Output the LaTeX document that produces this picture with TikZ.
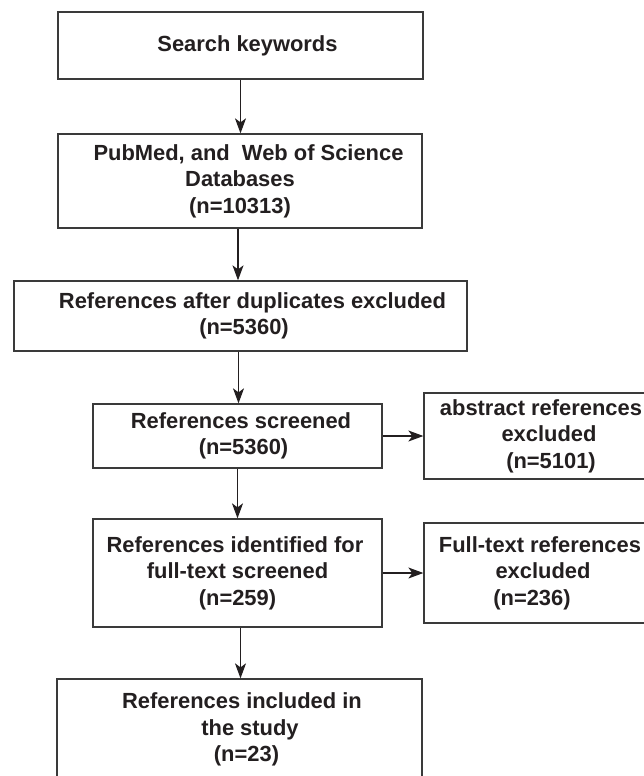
\documentclass[tikz,border=0pt]{standalone}
\usepackage{fontspec}
\setmainfont{Liberation Sans}
\usetikzlibrary{arrows.meta}
\definecolor{txt}{HTML}{231F20}
\definecolor{edge}{HTML}{3A3A3A}
\begin{document}
\begin{tikzpicture}[x=1pt,y=-1pt,
  box/.style={draw=edge, line width=1.3pt, rectangle, inner sep=0pt, align=center,
    text=txt, font=\fontsize{21.9}{26.5}\selectfont\bfseries},
  arr/.style={draw=txt, line width=1.2pt, -{Stealth[length=15pt,width=11pt,inset=4pt]}}]
\clip (0,0) rectangle (644,776);
\fill[white] (0,0) rectangle (644,776);
\node[box, minimum width=365pt, minimum height=67pt] (b1) at (240.5,45.5)
  {\hspace*{14pt}Search keywords};
\node[box, minimum width=364pt, minimum height=94pt] (b2) at (240,181)
  {\hspace*{17pt}PubMed, and\ \ Web of Science\\ Databases\hspace*{16pt}\\ (n=10313)};
\node[box, minimum width=453pt, minimum height=70pt] (b3) at (240.5,316)
  {\hspace*{24pt}References after duplicates excluded\\ \hspace*{7pt}(n=5360)};
\node[box, minimum width=289pt, minimum height=64pt] (b4) at (237.5,436)
  {\hspace*{7pt}References screened\\ \hspace*{12pt}(n=5360)};
\node[box, minimum width=238pt, minimum height=86pt] (b4r) at (543,436)
  {abstract references\hspace*{4pt}\\ \hspace*{12pt}excluded\\ \hspace*{16pt}(n=5101)};
\node[box, minimum width=289pt, minimum height=108pt] (b5) at (237.5,573)
  {References identified for\hspace*{5pt}\\ full-text screened\hspace*{7pt}\\ (n=259)};
\node[box, minimum width=238pt, minimum height=100pt] (b5r) at (543,573)
  {Full-text references\hspace*{6pt}\\ excluded\hspace*{16pt}\\ (n=236)\hspace*{22pt}};
\node[box, minimum width=365pt, minimum height=101pt] (b6) at (239.5,729.5)
  {\hspace*{5pt}References included in\\ \hspace*{21pt}the study\\ \hspace*{14pt}(n=23)};
\draw[arr] (b1.south) -- (b1.south |- b2.north);
\draw[arr] (b2.south) ++(-2pt,0) coordinate (s2) -- (s2 |- b3.north);
\draw[arr] (b3.south) ++(-2pt,0) coordinate (s3) -- (s3 |- b4.north);
\draw[arr] (b4.south) -- (b4.south |- b5.north);
\draw[arr] (b5.south) ++(3pt,0) coordinate (s5) -- (s5 |- b6.north);
\draw[arr] (b4.east) -- (b4.east -| b4r.west);
\draw[arr] (b5.east) -- (b5.east -| b5r.west);
\end{tikzpicture}
\end{document}
